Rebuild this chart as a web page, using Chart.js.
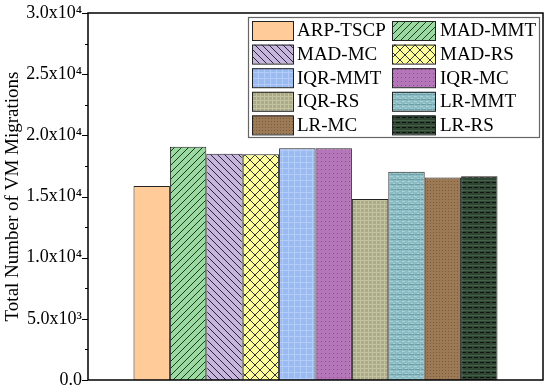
<!DOCTYPE html>
<html><head><meta charset="utf-8">
<script src="https://cdn.jsdelivr.net/npm/chart.js@4/dist/chart.umd.min.js"></script>
<style>html,body{margin:0;padding:0;background:#fff}#wrap{width:550px;height:389px}</style>
</head><body><div id="wrap"><canvas id="c" width="550" height="389"></canvas></div>
<script>
const categories = [''];
const seriesNames = ['ARP-TSCP','MAD-MMT','MAD-MC','MAD-RS','IQR-MMT','IQR-MC','IQR-RS','LR-MMT','LR-MC','LR-RS'];
const seriesValues = [15850, 19070, 18500, 18450, 18950, 18950, 14800, 17030, 16550, 16650];
const yTickLabels = {0:'0.0',5000:'5.0x10³',10000:'1.0x10⁴',15000:'1.5x10⁴',20000:'2.0x10⁴',25000:'2.5x10⁴',30000:'3.0x10⁴'};
const yTitle = 'Total Number of VM Migrations';

function mk(w,h,draw){const c=document.createElement('canvas');c.width=w;c.height=h;const g=c.getContext('2d');draw(g,w,h);return g.createPattern(c,'repeat');}
const fills=[
  '#FFCC99',
  mk(7,7,(g,w,h)=>{g.fillStyle='#9AD9A0';g.fillRect(0,0,w,h);g.strokeStyle='#1e3a22';g.lineWidth=1;g.beginPath();g.moveTo(-1,h+1);g.lineTo(w+1,-1);g.moveTo(-1-w,h+1);g.lineTo(1,-1);g.moveTo(w-1,h+1);g.lineTo(2*w+1,-1);g.stroke();}),
  mk(7,7,(g,w,h)=>{g.fillStyle='#C6B6DE';g.fillRect(0,0,w,h);g.strokeStyle='#2a2238';g.lineWidth=1;g.beginPath();g.moveTo(-1,-1);g.lineTo(w+1,h+1);g.moveTo(-1-w,-1);g.lineTo(1,h+1);g.moveTo(w-1,-1);g.lineTo(2*w+1,h+1);g.stroke();}),
  mk(10,10,(g,w,h)=>{g.fillStyle='#FFFF99';g.fillRect(0,0,w,h);g.strokeStyle='#333';g.lineWidth=1;g.beginPath();g.moveTo(-1,-1);g.lineTo(w+1,h+1);g.moveTo(-1,h+1);g.lineTo(w+1,-1);g.stroke();}),
  mk(6,6,(g,w,h)=>{g.fillStyle='#99BBF2';g.fillRect(0,0,w,h);g.fillStyle='#B4CDF8';g.fillRect(0,0,w,1);g.fillRect(0,0,1,h);}),
  mk(4,4,(g,w,h)=>{g.fillStyle='#B476B8';g.fillRect(0,0,w,h);g.fillStyle='#83508A';g.fillRect(1,1,1,1);}),
  mk(4,4,(g,w,h)=>{g.fillStyle='#ABAB87';g.fillRect(0,0,w,h);g.fillStyle='#C3C3A2';g.fillRect(0,0,w,1);g.fillRect(0,0,1,h);}),
  mk(6,5,(g,w,h)=>{g.fillStyle='#8DBDC4';g.fillRect(0,0,w,h);g.fillStyle='#A8D2D8';g.fillRect(0,1,3,1);g.fillRect(3,3,2,1);g.fillStyle='#6E9DA5';g.fillRect(1,4,w,1);}),
  mk(3,3,(g,w,h)=>{g.fillStyle='#9C7A55';g.fillRect(0,0,w,h);g.fillStyle='#7A5A3C';g.fillRect(1,1,1,1);}),
  mk(6,5,(g,w,h)=>{g.fillStyle='#2E4632';g.fillRect(0,0,w,h);g.fillStyle='#111';g.fillRect(0,2,4,1);g.fillStyle='#45604a';g.fillRect(0,0,w,1);})
];

const datasets = seriesNames.map((n,i)=>({label:n,data:[seriesValues[i]],backgroundColor:fills[i],borderColor:'#222',borderWidth:1,categoryPercentage:0.8,barPercentage:1.0}));

const frame={id:'frame',afterDraw(chart){
  const {ctx,chartArea:a,scales:{y}}=chart;
  ctx.save();
  ctx.strokeStyle='#000';ctx.lineWidth=1.5;
  ctx.strokeRect(a.left,a.top,a.right-a.left,a.bottom-a.top);
  ctx.lineWidth=1;
  for(let v=0;v<=30000;v+=2500){const py=Math.round(y.getPixelForValue(v))+0.5;const L=(v%5000===0)?6:3;ctx.beginPath();ctx.moveTo(a.left-L,py);ctx.lineTo(a.left,py);ctx.stroke();}
  // legend
  const lx=248,ly=17,lw=291,lh=120;
  ctx.fillStyle='#fff';ctx.fillRect(lx,ly,lw,lh);
  ctx.strokeStyle='#666';ctx.lineWidth=1.2;ctx.strokeRect(lx+0.5,ly+0.5,lw,lh);
  ctx.font='19px "Liberation Serif", "Times New Roman", serif';ctx.textBaseline='middle';
  chart.data.datasets.forEach((d,i)=>{
    const col=i%2,row=Math.floor(i/2);
    const sx=col===0?252:392, sy=21+row*23.6, sw=col===0?41:43, sh=19;
    ctx.fillStyle=d.backgroundColor;ctx.fillRect(sx,sy,sw,sh);
    ctx.strokeStyle='#222';ctx.lineWidth=1;ctx.strokeRect(sx+0.5,sy+0.5,sw,sh);
    ctx.fillStyle='#000';ctx.fillText(d.label,col===0?297:440,sy+sh/2+1);
  });
  ctx.restore();
}};

new Chart(document.getElementById('c'),{
  type:'bar',
  data:{labels:categories,datasets},
  options:{
    responsive:false,animation:false,
    layout:{padding:{top:13,right:7,bottom:9,left:0}},
    plugins:{legend:{display:false},tooltip:{enabled:false}},
    scales:{
      x:{display:false},
      y:{min:0,max:30000,
         afterFit(s){s.width=88;s.paddingTop=0;s.paddingBottom=0;},
         border:{display:false},
         grid:{display:false,drawTicks:false},
         ticks:{stepSize:5000,padding:6,color:'#000',font:{family:'"Liberation Serif", "Times New Roman", serif',size:18},
           callback:v=>yTickLabels[v]!==undefined?yTickLabels[v]:''},
         title:{display:true,text:yTitle,color:'#000',padding:{top:2,bottom:2},font:{family:'"Liberation Serif", "Times New Roman", serif',size:19}}
      }
    }
  },
  plugins:[frame]
});
</script></body></html>
